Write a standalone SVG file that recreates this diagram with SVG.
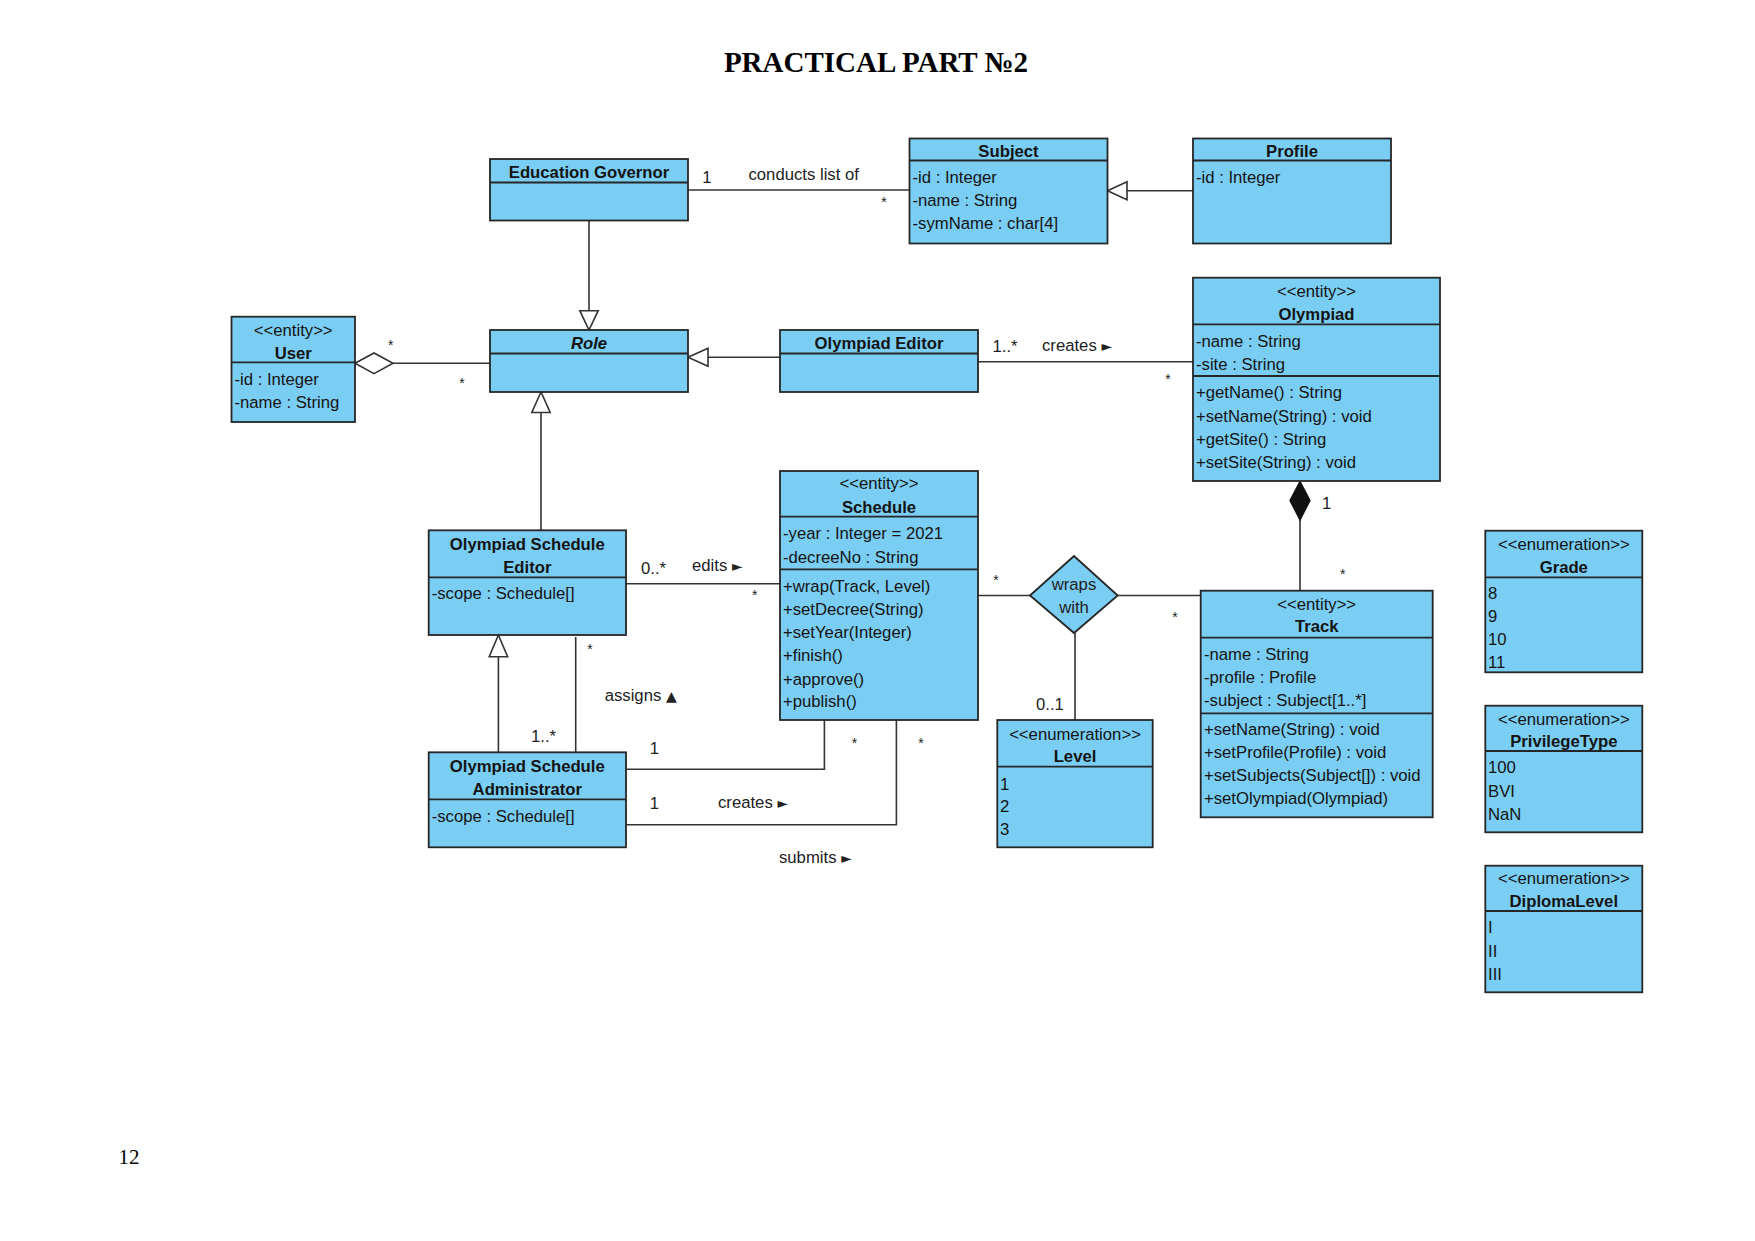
<svg xmlns="http://www.w3.org/2000/svg" width="1755" height="1241" viewBox="0 0 1755 1241">
<defs>
<style>
.bx{fill:#7ACDF3;stroke:#262626;stroke-width:1.8}
.dv{stroke:#262626;stroke-width:1.8;fill:none}
.ln{stroke:#333;stroke-width:1.6;fill:none}
.tri{fill:#fff;stroke:#333;stroke-width:1.6}
.t{font-family:"Liberation Sans",Arial,sans-serif;font-size:16.7px;fill:#141414}
.b{font-weight:bold}
.i{font-style:italic}
.c{text-anchor:middle}
.m{font-family:"Liberation Sans",Arial,sans-serif;font-size:16.7px;fill:#222}
.s{font-family:"Liberation Sans",Arial,sans-serif;font-size:14px;fill:#222;text-anchor:middle}
.ar{font-family:"DejaVu Sans",sans-serif;font-size:14px}
</style>
</defs>
<rect width="1755" height="1241" fill="#fff"/>
<text x="876" y="72" text-anchor="middle" font-family="'Liberation Serif','Times New Roman',serif" font-weight="bold" font-size="29" fill="#000">PRACTICAL PART №2</text>
<text x="118.5" y="1164" font-family="'Liberation Serif','Times New Roman',serif" font-size="21" fill="#000">12</text>

<g id="connectors">
<!-- EG - Subject -->
<line class="ln" x1="688" y1="190" x2="909.5" y2="190"/>
<text class="m c" x="707" y="182.7">1</text>
<text class="m c" x="803.7" y="180">conducts list of</text>
<text class="s" x="884" y="206.5">*</text>
<!-- EG -> Role -->
<line class="ln" x1="589" y1="220.5" x2="589" y2="310.7"/>
<polygon class="tri" points="589,330 579.8,310.7 598.2,310.7"/>
<!-- User - Role aggregation -->
<line class="ln" x1="393" y1="363.3" x2="490" y2="363.3"/>
<polygon class="tri" points="355,363.3 374,353 393,363.3 374,373.6"/>
<text class="s" x="390.7" y="350">*</text>
<text class="s" x="462" y="387.5">*</text>
<!-- OE -> Role -->
<line class="ln" x1="780" y1="357.3" x2="708" y2="357.3"/>
<polygon class="tri" points="688,357.3 708,348.3 708,366.3"/>
<!-- OE - Olympiad -->
<line class="ln" x1="978" y1="361.7" x2="1193" y2="361.7"/>
<text class="m c" x="1005" y="351.7">1..*</text>
<text class="m" x="1042" y="351.3">creates <tspan class="ar">►</tspan></text>
<text class="s" x="1168" y="383.5">*</text>
<!-- Profile -> Subject -->
<line class="ln" x1="1193" y1="190.7" x2="1127" y2="190.7"/>
<polygon class="tri" points="1107.5,190.7 1127,181.7 1127,199.7"/>
<!-- OSE -> Role -->
<line class="ln" x1="541" y1="530.3" x2="541" y2="412.5"/>
<polygon class="tri" points="541,392 531.8,412.5 550.2,412.5"/>
<!-- OSE - Schedule edits -->
<line class="ln" x1="626" y1="583.7" x2="780" y2="583.7"/>
<text class="m" x="641" y="574.3">0..*</text>
<text class="m" x="692" y="571.3">edits <tspan class="ar">►</tspan></text>
<text class="s" x="754.8" y="599.5">*</text>
<!-- OSA -> OSE -->
<line class="ln" x1="498.4" y1="752.3" x2="498.4" y2="656.7"/>
<polygon class="tri" points="498.4,635 489.2,656.7 507.6,656.7"/>
<!-- assigns -->
<line class="ln" x1="575.7" y1="637" x2="575.7" y2="752.3"/>
<text class="s" x="590" y="653.5">*</text>
<text class="m" x="531" y="742">1..*</text>
<text class="m" x="604.7" y="700.7">assigns <tspan class="ar">▲</tspan></text>
<!-- OSA - Schedule 1 -->
<polyline class="ln" points="626,769.3 824.4,769.3 824.4,720"/>
<text class="m c" x="654.5" y="754.3">1</text>
<text class="s" x="854.6" y="747.8">*</text>
<!-- OSA - Schedule 2 -->
<polyline class="ln" points="626,824.7 896.4,824.7 896.4,720"/>
<text class="m c" x="654.5" y="809.3">1</text>
<text class="s" x="920.9" y="747.8">*</text>
<text class="m" x="718" y="807.7">creates <tspan class="ar">►</tspan></text>
<text class="m" x="779" y="862.7">submits <tspan class="ar">►</tspan></text>
<!-- Schedule - wraps -->
<line class="ln" x1="978" y1="595.5" x2="1030" y2="595.5"/>
<text class="s" x="996" y="585.2">*</text>
<!-- wraps - Track -->
<line class="ln" x1="1117.7" y1="595.5" x2="1200.7" y2="595.5"/>
<text class="s" x="1175" y="621.8">*</text>
<!-- wraps - Level -->
<line class="ln" x1="1075" y1="633" x2="1075" y2="720"/>
<text class="m" x="1036" y="710.3">0..1</text>
<!-- Olympiad - Track composition -->
<line class="ln" x1="1300" y1="520" x2="1300" y2="590.7"/>
<polygon points="1300,481.5 1310,500.5 1300,520 1290,500.5" fill="#111" stroke="#111" stroke-width="1.4"/>
<text class="m c" x="1326.7" y="509.3">1</text>
<text class="s" x="1342.7" y="578.5">*</text>
</g>

<g id="EducationGovernor">
<rect class="bx" x="490" y="159" width="198" height="61.5"/>
<line class="dv" x1="490" y1="182.5" x2="688" y2="182.5"/>
<text class="t b c" x="589" y="177.5">Education Governor</text>
</g>

<g id="Role">
<rect class="bx" x="490" y="330" width="198" height="62"/>
<line class="dv" x1="490" y1="353.5" x2="688" y2="353.5"/>
<text class="t b i c" x="589" y="348.5">Role</text>
</g>

<g id="OlympiadEditor">
<rect class="bx" x="780" y="330" width="198" height="62"/>
<line class="dv" x1="780" y1="353.5" x2="978" y2="353.5"/>
<text class="t b c" x="879" y="348.5">Olympiad Editor</text>
</g>

<g id="Subject">
<rect class="bx" x="909.5" y="138.5" width="198" height="105"/>
<line class="dv" x1="909.5" y1="160.5" x2="1107.5" y2="160.5"/>
<text class="t b c" x="1008.5" y="156.5">Subject</text>
<text class="t" x="912.5" y="182.7">-id : Integer</text>
<text class="t" x="912.5" y="206">-name : String</text>
<text class="t" x="912.5" y="229.3">-symName : char[4]</text>
</g>

<g id="Profile">
<rect class="bx" x="1193" y="138.5" width="198" height="105"/>
<line class="dv" x1="1193" y1="160.5" x2="1391" y2="160.5"/>
<text class="t b c" x="1292" y="156.5">Profile</text>
<text class="t" x="1196" y="182.7">-id : Integer</text>
</g>

<g id="Olympiad">
<rect class="bx" x="1193" y="277.7" width="247" height="203.3"/>
<line class="dv" x1="1193" y1="324.3" x2="1440" y2="324.3"/>
<line class="dv" x1="1193" y1="376" x2="1440" y2="376"/>
<text class="t c" x="1316.5" y="297">&lt;&lt;entity&gt;&gt;</text>
<text class="t b c" x="1316.5" y="320.3">Olympiad</text>
<text class="t" x="1196" y="346.7">-name : String</text>
<text class="t" x="1196" y="370">-site : String</text>
<text class="t" x="1196" y="398.3">+getName() : String</text>
<text class="t" x="1196" y="421.7">+setName(String) : void</text>
<text class="t" x="1196" y="445">+getSite() : String</text>
<text class="t" x="1196" y="468.3">+setSite(String) : void</text>
</g>

<g id="User">
<rect class="bx" x="231.5" y="316.7" width="123.5" height="105.3"/>
<line class="dv" x1="231.5" y1="362.3" x2="355" y2="362.3"/>
<text class="t c" x="293.2" y="336">&lt;&lt;entity&gt;&gt;</text>
<text class="t b c" x="293.2" y="358.7">User</text>
<text class="t" x="234.5" y="385">-id : Integer</text>
<text class="t" x="234.5" y="408">-name : String</text>
</g>

<g id="OlympiadScheduleEditor">
<rect class="bx" x="428.7" y="530.3" width="197.3" height="104.7"/>
<line class="dv" x1="428.7" y1="577.3" x2="626" y2="577.3"/>
<text class="t b c" x="527.3" y="550">Olympiad Schedule</text>
<text class="t b c" x="527.3" y="573.3">Editor</text>
<text class="t" x="431.7" y="599.3">-scope : Schedule[]</text>
</g>

<g id="OlympiadScheduleAdministrator">
<rect class="bx" x="428.7" y="752.3" width="197.3" height="95"/>
<line class="dv" x1="428.7" y1="799.3" x2="626" y2="799.3"/>
<text class="t b c" x="527.3" y="771.7">Olympiad Schedule</text>
<text class="t b c" x="527.3" y="795">Administrator</text>
<text class="t" x="431.7" y="821.7">-scope : Schedule[]</text>
</g>

<g id="Schedule">
<rect class="bx" x="780" y="471" width="198" height="249"/>
<line class="dv" x1="780" y1="516.7" x2="978" y2="516.7"/>
<line class="dv" x1="780" y1="569.3" x2="978" y2="569.3"/>
<text class="t c" x="879" y="489.3">&lt;&lt;entity&gt;&gt;</text>
<text class="t b c" x="879" y="512.7">Schedule</text>
<text class="t" x="783" y="538.7">-year : Integer = 2021</text>
<text class="t" x="783" y="562.7">-decreeNo : String</text>
<text class="t" x="783" y="592">+wrap(Track, Level)</text>
<text class="t" x="783" y="615">+setDecree(String)</text>
<text class="t" x="783" y="638">+setYear(Integer)</text>
<text class="t" x="783" y="661">+finish()</text>
<text class="t" x="783" y="684.5">+approve()</text>
<text class="t" x="783" y="707">+publish()</text>
</g>

<g id="WrapsWith">
<polygon class="bx" points="1030,595.5 1074,556 1117.7,595.5 1074,633"/>
<text class="m c" x="1074" y="590" fill="#333">wraps</text>
<text class="m c" x="1074" y="612.7" fill="#333">with</text>
</g>

<g id="Track">
<rect class="bx" x="1200.7" y="590.7" width="232" height="226.6"/>
<line class="dv" x1="1200.7" y1="637.7" x2="1432.7" y2="637.7"/>
<line class="dv" x1="1200.7" y1="713.3" x2="1432.7" y2="713.3"/>
<text class="t c" x="1316.7" y="610.3">&lt;&lt;entity&gt;&gt;</text>
<text class="t b c" x="1316.7" y="632">Track</text>
<text class="t" x="1204" y="659.5">-name : String</text>
<text class="t" x="1204" y="682.5">-profile : Profile</text>
<text class="t" x="1204" y="705.5">-subject : Subject[1..*]</text>
<text class="t" x="1204" y="734.5">+setName(String) : void</text>
<text class="t" x="1204" y="757.5">+setProfile(Profile) : void</text>
<text class="t" x="1204" y="780.5">+setSubjects(Subject[]) : void</text>
<text class="t" x="1204" y="803.5">+setOlympiad(Olympiad)</text>
</g>

<g id="Level">
<rect class="bx" x="997.3" y="720" width="155.4" height="127.3"/>
<line class="dv" x1="997.3" y1="766.7" x2="1152.7" y2="766.7"/>
<text class="t c" x="1075" y="740">&lt;&lt;enumeration&gt;&gt;</text>
<text class="t b c" x="1075" y="762">Level</text>
<text class="t" x="1000" y="789.5">1</text>
<text class="t" x="1000" y="812">2</text>
<text class="t" x="1000" y="834.5">3</text>
</g>

<g id="Grade">
<rect class="bx" x="1485.3" y="530.7" width="157" height="141.6"/>
<line class="dv" x1="1485.3" y1="577.3" x2="1642.3" y2="577.3"/>
<text class="t c" x="1563.8" y="550">&lt;&lt;enumeration&gt;&gt;</text>
<text class="t b c" x="1563.8" y="573">Grade</text>
<text class="t" x="1488" y="598.5">8</text>
<text class="t" x="1488" y="621.5">9</text>
<text class="t" x="1488" y="644.5">10</text>
<text class="t" x="1488" y="667.5">11</text>
</g>

<g id="PrivilegeType">
<rect class="bx" x="1485.3" y="705.7" width="157" height="126.6"/>
<line class="dv" x1="1485.3" y1="751" x2="1642.3" y2="751"/>
<text class="t c" x="1563.8" y="725">&lt;&lt;enumeration&gt;&gt;</text>
<text class="t b c" x="1563.8" y="747">PrivilegeType</text>
<text class="t" x="1488" y="772.7">100</text>
<text class="t" x="1488" y="796.7">BVI</text>
<text class="t" x="1488" y="820">NaN</text>
</g>

<g id="DiplomaLevel">
<rect class="bx" x="1485.3" y="865.7" width="157" height="126.6"/>
<line class="dv" x1="1485.3" y1="911" x2="1642.3" y2="911"/>
<text class="t c" x="1563.8" y="884.3">&lt;&lt;enumeration&gt;&gt;</text>
<text class="t b c" x="1563.8" y="907">DiplomaLevel</text>
<text class="t" x="1488" y="932.7">I</text>
<text class="t" x="1488" y="956.7">II</text>
<text class="t" x="1488" y="980">III</text>
</g>
</svg>
